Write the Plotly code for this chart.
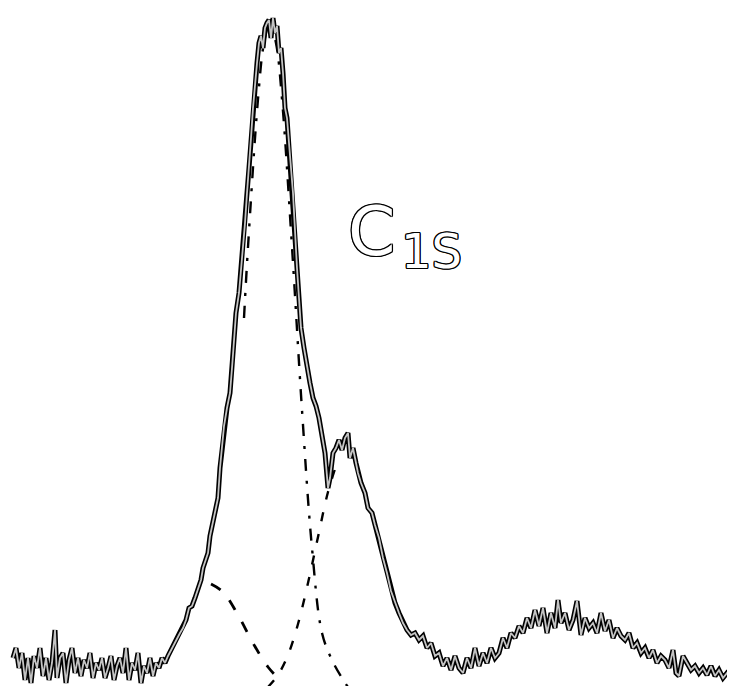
import plotly.graph_objects as go

# Spectrum (channel, intensity)
spec_x = [5, 8, 11, 14, 17, 20, 23, 26, 29, 32, 35, 38, 41, 44, 47, 49, 52, 55, 58, 61, 64, 67, 70, 73, 76, 79,
          82, 85, 88, 91, 94, 97, 100, 103, 106, 109, 112, 115, 118, 121, 124, 127, 130, 133, 136, 139, 142, 145,
          148, 151, 154, 157, 160, 163, 166, 169, 172, 175, 178, 181, 184, 187, 190, 193, 195, 197, 200, 202, 205,
          208, 210, 212, 214, 216, 219, 222, 224, 226, 228, 231, 233, 235, 237, 239, 241, 243, 245, 247, 249, 251,
          253, 255, 257, 259, 261, 263, 265, 267, 269, 271, 273, 275, 277, 279, 281, 283, 285, 287, 289, 291, 293,
          296, 299, 302, 305, 308, 311, 314, 317, 320, 322, 325, 328, 331, 334, 337, 340, 342, 345, 348, 350, 353,
          357, 360, 364, 367, 371, 375, 379, 383, 387, 391, 395, 399, 403, 407, 411, 415, 419, 423, 427, 431, 435,
          439, 443, 447, 451, 455, 459, 463, 467, 471, 475, 479, 483, 487, 491, 495, 499, 503, 507, 511, 515, 519,
          523, 527, 531, 535, 539, 543, 547, 550, 553, 557, 561, 565, 569, 573, 577, 581, 585, 589, 593, 597, 601,
          605, 609, 613, 617, 621, 625, 629, 633, 637, 641, 645, 649, 653, 657, 661, 665, 668, 671, 675, 679, 683,
          687, 691, 695, 699, 703, 707, 711, 715, 719, 723, 727, 730]
spec_py = [650, 640, 660, 645, 672, 650, 675, 648, 660, 640, 668, 650, 672, 655, 622, 670, 650, 645, 675, 652, 640,
           665, 650, 668, 652, 660, 645, 670, 655, 662, 650, 670, 660, 648, 672, 658, 650, 665, 640, 672, 655, 662,
           645, 675, 658, 665, 650, 668, 655, 660, 650, 655, 648, 642, 636, 630, 625, 620, 612, 600, 598, 590, 580,
           572, 560, 553, 545, 528, 515, 500, 490, 460, 440, 418, 400, 385, 360, 335, 305, 285, 262, 245, 215, 185,
           160, 130, 100, 75, 55, 35, 28, 40, 20, 15, 12, 30, 10, 25, 18, 45, 40, 65, 100, 110, 140, 160, 185, 230,
           260, 290, 320, 340, 360, 375, 390, 398, 410, 430, 445, 480, 470, 445, 440, 432, 442, 430, 425, 450, 440,
           455, 465, 475, 485, 500, 505, 517, 530, 550, 565, 583, 595, 605, 615, 622, 627, 625, 632, 628, 640, 635,
           648, 645, 658, 650, 662, 648, 660, 665, 650, 660, 640, 658, 645, 655, 640, 650, 645, 630, 640, 625, 630,
           618, 625, 610, 620, 602, 618, 600, 625, 605, 620, 592, 615, 605, 622, 612, 593, 627, 610, 620, 615, 625,
           605, 623, 612, 630, 620, 628, 632, 625, 640, 635, 645, 640, 650, 642, 655, 648, 652, 660, 642, 665, 668,
           648, 655, 662, 658, 665, 660, 667, 658, 668, 662, 670, 665, 668, 657, 670]
BASE = 690
spec_y = [BASE - p for p in spec_py]

# Fitted components: visible parts of the dashed curves
main_x = [236, 240, 250, 256, 262, 268, 274, 284, 294, 304, 314, 324, 334, 342]
main_y = [380, 451, 599, 655, 675, 655, 599, 451, 288, 150, 65, 38, 20, 8]

sh_x = [260, 270, 280, 290, 300, 310, 320, 330]
sh_y = [11, 23, 43, 74, 115, 161, 206, 238]

lc_x = [203, 215, 230, 245, 260, 275]
lc_y = [114, 106, 83, 55, 31, 15]

fig = go.Figure()
fig.add_trace(go.Scatter(x=lc_x, y=lc_y, mode="lines", line=dict(color="black", width=2.8, dash="11px,14px", shape="spline"), hoverinfo="skip"))
fig.add_trace(go.Scatter(x=sh_x, y=sh_y, mode="lines", line=dict(color="black", width=2.4, dash="9px,13px", shape="spline"), hoverinfo="skip"))
fig.add_trace(go.Scatter(x=main_x, y=main_y, mode="lines", line=dict(color="black", width=2.4, dash="12px,10px,3px,10px", shape="spline"), hoverinfo="skip"))
fig.add_trace(go.Scatter(x=spec_x, y=spec_y, mode="lines", line=dict(color="black", width=5), hoverinfo="skip"))
fig.add_trace(go.Scatter(x=spec_x, y=spec_y, mode="lines", line=dict(color="#c4c4c4", width=1.8), hoverinfo="skip"))

outline = "1.3px 0 0 #000, -1.3px 0 0 #000, 0 1.3px 0 #000, 0 -1.3px 0 #000, 1px 1px 0 #000, -1px -1px 0 #000, 1px -1px 0 #000, -1px 1px 0 #000"
W, H = 735, 686


def label(text, px, py, size, anchor):
    return dict(text=text, x=px / W, y=1 - py / H, xref="paper", yref="paper", showarrow=False,
                xanchor=anchor, yanchor="middle",
                font=dict(size=size, family="DejaVu Sans", color="white", shadow=outline))


fig.update_layout(
    width=W, height=H, autosize=False,
    margin=dict(l=0, r=0, t=0, b=0),
    paper_bgcolor="white", plot_bgcolor="white",
    showlegend=False,
    xaxis=dict(range=[0, 735], visible=False),
    yaxis=dict(range=[BASE - 686, BASE], visible=False),
    annotations=[
        label("C", 389, 224, 68, "right"),
        label("1S", 391, 243, 48, "left"),
    ],
)
fig.write_html("out.html")
